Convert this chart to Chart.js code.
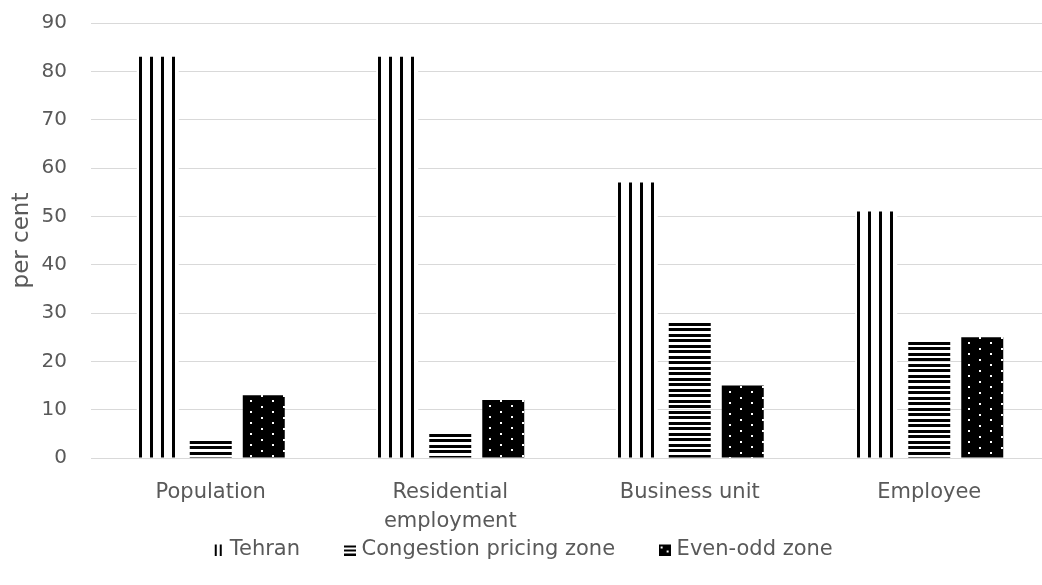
<!DOCTYPE html>
<html>
<head>
<meta charset="utf-8">
<title>Share by zone</title>
<script src="https://cdn.jsdelivr.net/npm/chart.js@4.4.1/dist/chart.umd.min.js"></script>
<style>
  html, body { margin: 0; padding: 0; background: #fff; overflow: hidden; }
  #wrap { width: 1049px; height: 585px; }
</style>
</head>
<body>
<div id="wrap"><canvas id="chart"></canvas></div>
<script>
const categories = ['Population', ['Residential', 'employment'], 'Business unit', 'Employee'];
const seriesNames = ['Tehran', 'Congestion pricing zone', 'Even-odd zone'];
const tehran = [83, 83, 57, 51];
const congestion = [3.5, 5, 28, 24];
const evenOdd = [13, 12, 15, 25];
const yTicks = [0, 10, 20, 30, 40, 50, 60, 70, 80, 90];

const CAT_PCT = 0.664;
const BAR_PCT = 0.792;
const FONT = 'DejaVu Sans';
const TEXT = '#595959';
const GRID = '#d9d9d9';

function tile(w, h, draw) {
  const c = document.createElement('canvas');
  c.width = w;
  c.height = h;
  draw(c.getContext('2d'), w, h);
  return c;
}

// bar fills: vertical lines, horizontal lines, white dots on black
const vLines = tile(11, 4, (c, w, h) => {
  c.fillStyle = '#fff';
  c.fillRect(0, 0, w, h);
  c.fillStyle = '#000';
  c.fillRect(2, 0, 3, h);
});
const hLines = tile(4, 11, (c, w) => {
  c.fillStyle = '#000';
  c.fillRect(0, 0, w, 3);
  c.fillRect(0, 5, w, 3);
});
const dots = tile(22, 11, (c, w, h) => {
  c.fillStyle = '#000';
  c.fillRect(0, 0, w, h);
  c.fillStyle = '#fff';
  c.fillRect(7, 5, 2, 2);
  c.fillRect(18, 0, 2, 2);
});

// small legend icons
const legendIcons = [
  tile(12, 12, (c) => {
    c.fillStyle = '#000';
    c.fillRect(3, 1, 2, 11);
    c.fillRect(8, 1, 2, 11);
  }),
  tile(12, 12, (c) => {
    c.fillStyle = '#000';
    c.fillRect(0, 2, 12, 2);
    c.fillRect(0, 6, 12, 2);
    c.fillRect(0, 10, 12, 2);
  }),
  tile(12, 12, (c) => {
    c.fillStyle = '#000';
    c.fillRect(0, 1, 12, 11);
    c.fillStyle = '#fff';
    c.fillRect(2, 3, 2, 2);
    c.fillRect(8, 7, 2, 2);
  })
];

// pattern anchored to each bar's top-left corner
function patternFill(src, values) {
  return (ctx) => {
    if (ctx.type !== 'data') return '#000';
    const chart = ctx.chart;
    const x = chart.scales.x;
    const y = chart.scales.y;
    const slot = (x.width / categories.length) * CAT_PCT / 3;
    const left = x.getPixelForValue(ctx.dataIndex) + (ctx.datasetIndex - 1) * slot - slot * BAR_PCT / 2;
    const top = y.getPixelForValue(values[ctx.dataIndex]);
    const p = chart.ctx.createPattern(src, 'repeat');
    p.setTransform(new DOMMatrix([1, 0, 0, 1, Math.round(left), Math.round(top)]));
    return p;
  };
}

const tiles = [vLines, hLines, dots];
const seriesValues = [tehran, congestion, evenOdd];

new Chart(document.getElementById('chart'), {
  type: 'bar',
  data: {
    labels: categories,
    datasets: seriesNames.map((name, i) => ({
      label: name,
      data: seriesValues[i],
      backgroundColor: patternFill(tiles[i], seriesValues[i]),
      borderWidth: 0,
      categoryPercentage: CAT_PCT,
      barPercentage: BAR_PCT
    }))
  },
  options: {
    responsive: true,
    maintainAspectRatio: false,
    devicePixelRatio: 1,
    animation: false,
    layout: { padding: { top: 23, right: 0, left: 0, bottom: 15 } },
    plugins: {
      tooltip: { enabled: false },
      legend: {
        position: 'bottom',
        labels: {
          usePointStyle: true,
          pointStyleWidth: 3,
          boxHeight: 12,
          padding: 8,
          color: TEXT,
          font: { family: FONT, size: 21 },
          generateLabels: () => seriesNames.map((name, i) => ({
            text: i < seriesNames.length - 1 ? name + '\u00a0\u00a0\u00a0\u00a0\u00a0\u00a0' : name,
            fillStyle: '#000',
            strokeStyle: 'transparent',
            lineWidth: 0,
            pointStyle: legendIcons[i],
            hidden: false,
            datasetIndex: i,
            fontColor: TEXT
          }))
        }
      }
    },
    scales: {
      x: {
        grid: { display: false, drawTicks: false },
        border: { display: true, color: GRID, width: 1 },
        ticks: {
          color: TEXT,
          padding: 20,
          maxRotation: 0,
          font: { family: FONT, size: 21, lineHeight: 1.38 }
        },
        afterFit: (scale) => {
          scale.paddingLeft = 0;
          scale.paddingRight = 0;
          scale.height = 73;
        }
      },
      y: {
        min: 0,
        max: 90,
        afterBuildTicks: (axis) => { axis.ticks = yTicks.map((v) => ({ value: v })); },
        afterFit: (scale) => {
          scale.width = 91;
          scale.paddingTop = 0;
          scale.paddingBottom = 0;
        },
        grid: { color: GRID, drawTicks: false },
        border: { display: false },
        ticks: {
          color: TEXT,
          padding: 24,
          font: { family: FONT, size: 20 }
        },
        title: {
          display: true,
          text: 'per cent',
          color: TEXT,
          padding: { top: 8, bottom: 0 },
          font: { family: FONT, size: 23 }
        }
      }
    }
  }
});
</script>
</body>
</html>
